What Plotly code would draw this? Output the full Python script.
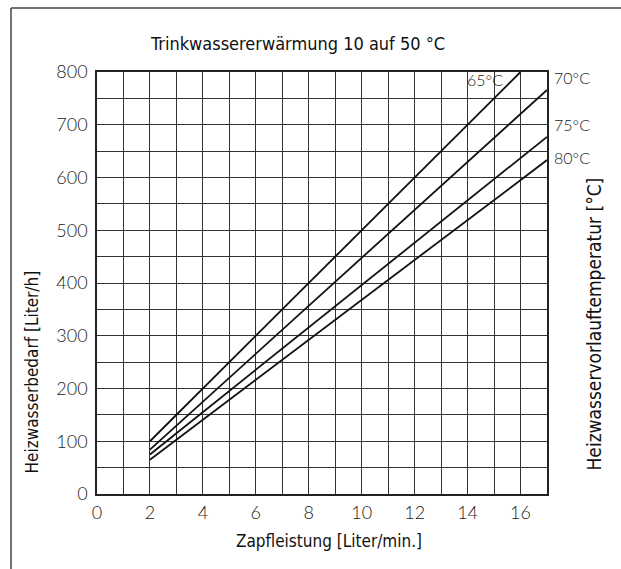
import plotly.graph_objects as go

# ---- data ----
temp_labels = ["65°C", "70°C", "75°C", "80°C"]
x_65 = [2, 16]
y_65 = [100, 800]
x_70 = [2, 17]
y_70 = [84, 766]
x_75 = [2, 17]
y_75 = [75, 677]
x_80 = [2, 17]
y_80 = [65, 633]
x_tickvals = [0, 2, 4, 6, 8, 10, 12, 14, 16]
y_tickvals = [0, 100, 200, 300, 400, 500, 600, 700, 800]

title_text = "Trinkwassererwärmung 10 auf 50 °C"
x_title = "Zapfleistung [Liter/min.]"
y_title = "Heizwasserbedarf [Liter/h]"
y2_title = "Heizwasservorlauftemperatur [°C]"

TICK_FONT = dict(family="Lato, Inter, sans-serif", size=18, color="#222", weight=300)
NARROW = "Liberation Sans Narrow, DejaVu Sans Condensed, Arial Narrow, sans-serif"

fig = go.Figure()
for xs, ys in [(x_65, y_65), (x_70, y_70), (x_75, y_75), (x_80, y_80)]:
    fig.add_trace(go.Scatter(x=xs, y=ys, mode="lines",
                             line=dict(color="#111", width=1.8),
                             showlegend=False, hoverinfo="skip"))

W, H = 621, 569
L, R, T, B = 97, 74, 72, 75
pw, ph = W - L - R, H - T - B

def px(xp):
    return (xp - L) / pw

def py(yp):
    return (H - B - yp) / ph

grid_col = "#333"
fig.update_layout(
    width=W, height=H,
    margin=dict(l=L, r=R, t=T, b=B, pad=0),
    paper_bgcolor="white", plot_bgcolor="white",
    xaxis=dict(range=[0, 17], tickvals=x_tickvals, showgrid=True, gridcolor=grid_col, gridwidth=1.2,
               minor=dict(dtick=1, tick0=0, showgrid=True, gridcolor=grid_col, gridwidth=1.2),
               showline=True, linecolor="#222", linewidth=1.5, mirror=True,
               ticks="", tickfont=TICK_FONT, zeroline=False, ticklabelstandoff=2),
    yaxis=dict(range=[0, 800], tickvals=y_tickvals, showgrid=True, gridcolor=grid_col, gridwidth=1.2,
               minor=dict(dtick=50, tick0=0, showgrid=True, gridcolor=grid_col, gridwidth=1.2),
               showline=True, linecolor="#222", linewidth=1.5, mirror=True,
               ticks="", tickfont=TICK_FONT, zeroline=False, ticklabelstandoff=4),
)

ann = []
ann.append(dict(text=title_text, x=px(297), y=py(44), xref="paper", yref="paper",
                showarrow=False, font=dict(family=NARROW, size=18, color="#111"),
                xanchor="center", yanchor="middle"))
ann.append(dict(text=x_title, x=px(329), y=py(541), xref="paper", yref="paper",
                showarrow=False, font=dict(family=NARROW, size=17, color="#111"),
                xanchor="center", yanchor="middle"))
ann.append(dict(text=y_title, x=px(31), y=py(476), xref="paper", yref="paper", textangle=-90,
                showarrow=False, font=dict(family=NARROW, size=17, color="#111"),
                xanchor="center", yanchor="bottom"))
ann.append(dict(text=y2_title, x=px(593), y=py(473), xref="paper", yref="paper", textangle=-90,
                showarrow=False, font=dict(family=NARROW, size=19, color="#111"),
                xanchor="center", yanchor="bottom"))

LBL_FONT = dict(family="Lato, Inter, sans-serif", size=16, color="#222", weight=300)
ann.append(dict(text=temp_labels[0], x=14.65, y=786, xref="x", yref="y",
                showarrow=False, font=LBL_FONT, xanchor="center", yanchor="middle"))
for lbl, yv in zip(temp_labels[1:], [790, 700, 638]):
    ann.append(dict(text=lbl, x=px(552), y=yv, xref="paper", yref="y",
                    showarrow=False, font=LBL_FONT, xanchor="left", yanchor="middle"))
fig.update_layout(annotations=ann)

# outer frame (left + top edges of the drawing box)
fig.add_shape(type="line", xref="paper", yref="paper", x0=px(11), y0=py(H + 5), x1=px(11), y1=py(8),
              line=dict(color="#444", width=1.5))
fig.add_shape(type="line", xref="paper", yref="paper", x0=px(11), y0=py(8), x1=px(W + 5), y1=py(8),
              line=dict(color="#444", width=1.5))

fig.write_html("out.html")
